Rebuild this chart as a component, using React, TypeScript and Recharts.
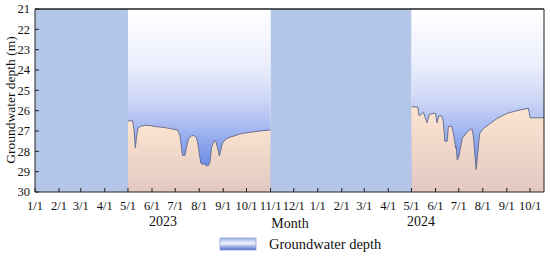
import { Area, AreaChart, ReferenceArea, ReferenceLine, XAxis, YAxis } from "recharts";

// days counted from 2023-01-01
const days2023 = [
  120, 126, 128, 129.5, 131, 133, 136, 141, 148, 155, 165, 175, 184, 187, 189, 190.5, 193.5, 195.5, 198, 201,
  205, 208, 210, 212, 214, 217, 219, 221, 224, 226, 228, 231, 233, 235.5, 238, 240, 242, 246, 252, 258, 264,
  271, 282, 293, 304,
];
const depth2023 = [
  26.5, 26.5, 27.0, 27.84, 27.3, 26.85, 26.78, 26.72, 26.73, 26.78, 26.82, 26.88, 26.95, 27.2, 27.8, 28.2, 28.2,
  27.8, 27.4, 27.25, 27.22, 27.3, 27.55, 28.1, 28.58, 28.65, 28.6, 28.72, 28.7, 28.5, 27.77, 27.5, 27.48, 27.8,
  28.23, 27.9, 27.6, 27.4, 27.3, 27.23, 27.15, 27.1, 27.04, 26.99, 26.95,
];

const days2024 = [
  486, 494, 496, 500, 501.5, 506, 509, 514, 517, 519, 521, 525, 527, 529, 532, 533.5, 538, 540.5, 543, 543.8,
  545, 547, 551.5, 558, 562, 564, 566, 568, 569.5, 571, 574, 579, 588, 596.5, 609.5, 622, 637, 639, 657,
];
const depth2024 = [
  25.8, 25.83, 26.26, 26.13, 26.08, 26.59, 26.18, 26.13, 26.15, 26.59, 26.26, 26.26, 26.5, 27.5, 27.5, 26.79,
  26.76, 27.2, 27.85, 27.77, 28.43, 28.26, 27.36, 27.04, 26.92, 26.9, 27.3, 28.26, 28.89, 28.26, 27.12, 26.87,
  26.62, 26.38, 26.13, 26.0, 25.88, 26.35, 26.35,
];

const monthTicks = [0, 31, 59, 90, 120, 151, 181, 212, 243, 273, 304, 334, 365, 396, 425, 456, 486, 517, 547, 578, 609, 639];
const monthLabels = [
  "1/1", "2/1", "3/1", "4/1", "5/1", "6/1", "7/1", "8/1", "9/1", "10/1", "11/1", "12/1",
  "1/1", "2/1", "3/1", "4/1", "5/1", "6/1", "7/1", "8/1", "9/1", "10/1",
];
const depthTicks = [21, 22, 23, 24, 25, 26, 27, 28, 29, 30];

const offSeason = [
  [0, 120],
  [304, 486],
];
const onSeason = [
  [120, 304],
  [486, 657],
];

const data2023 = days2023.map((day, i) => ({ day, depth: depth2023[i] }));
const data2024 = days2024.map((day, i) => ({ day, depth: depth2024[i] }));

const font = "'Liberation Serif', serif";
const axisColor = "#222";

export default function App() {
  const tickStyle = { fontSize: 12.5, fill: "#111", fontFamily: font };
  return (
    <div style={{ position: "absolute", left: 0, top: 0, width: 550, height: 257, background: "#fff" }}>
      <AreaChart width={550} height={257} data={data2023} margin={{ top: 9, right: 6, bottom: 45, left: 0 }}>
        <defs>
          <linearGradient id="sky" x1="0" y1="0" x2="0" y2="1">
            <stop offset="0%" stopColor="#ffffff" />
            <stop offset="30%" stopColor="#eceffc" />
            <stop offset="50%" stopColor="#cdd6f6" />
            <stop offset="65%" stopColor="#a5b8f1" />
            <stop offset="80%" stopColor="#7b98e9" />
            <stop offset="100%" stopColor="#4a74df" />
          </linearGradient>
          <linearGradient id="soil" x1="0" y1="0" x2="0" y2="1">
            <stop offset="0%" stopColor="#fde5d0" />
            <stop offset="100%" stopColor="#e3c8c2" />
          </linearGradient>
        </defs>
        <XAxis
          type="number"
          dataKey="day"
          domain={[0, 657]}
          ticks={monthTicks}
          interval={0}
          tickFormatter={(v) => monthLabels[monthTicks.indexOf(v)] ?? ""}
          height={20}
          tickSize={-4}
          tickMargin={13}
          stroke={axisColor}
          tick={tickStyle}
          allowDataOverflow
        />
        <YAxis
          type="number"
          domain={[21, 30]}
          ticks={depthTicks}
          reversed
          width={35}
          tickSize={-4}
          tickMargin={9}
          stroke={axisColor}
          tick={tickStyle}
          interval={0}
        />
        {offSeason.map(([a, b]) => (
          <ReferenceArea key={`off${a}`} x1={a} x2={b} y1={21} y2={30} fill="#b4c6e7" fillOpacity={1} stroke="none" />
        ))}
        {onSeason.map(([a, b]) => (
          <ReferenceArea key={`on${a}`} x1={a} x2={b} y1={21} y2={30} fill="url(#sky)" fillOpacity={1} stroke="none" />
        ))}
        <Area
          data={data2023}
          dataKey="depth"
          type="linear"
          baseValue={30}
          fill="url(#soil)"
          fillOpacity={1}
          stroke="#6b7190"
          strokeWidth={1}
          dot={false}
          isAnimationActive={false}
        />
        <Area
          data={data2024}
          dataKey="depth"
          type="linear"
          baseValue={30}
          fill="url(#soil)"
          fillOpacity={1}
          stroke="#6b7190"
          strokeWidth={1}
          dot={false}
          isAnimationActive={false}
        />
        <ReferenceLine y={21} stroke={axisColor} strokeWidth={1.5} />
        <ReferenceLine x={657} stroke={axisColor} strokeWidth={1} />
      </AreaChart>
      <svg width={550} height={257} style={{ position: "absolute", left: 0, top: 0, pointerEvents: "none" }}>
        <defs>
          <linearGradient id="legendFill" x1="0" y1="0" x2="0" y2="1">
            <stop offset="0%" stopColor="#9fb2e6" />
            <stop offset="45%" stopColor="#f2f4fc" />
            <stop offset="100%" stopColor="#4a6ccd" />
          </linearGradient>
        </defs>
        <text
          x={10}
          y={100}
          transform="rotate(-90 10 100)"
          textAnchor="middle"
          dominantBaseline="central"
          fontFamily={font}
          fontSize={13.5}
          fill="#111"
        >
          Groundwater depth (m)
        </text>
        <text x={163} y={221} textAnchor="middle" dominantBaseline="central" fontFamily={font} fontSize={14} fill="#111">
          2023
        </text>
        <text x={290} y={223} textAnchor="middle" dominantBaseline="central" fontFamily={font} fontSize={14} fill="#111">
          Month
        </text>
        <text x={421} y={221} textAnchor="middle" dominantBaseline="central" fontFamily={font} fontSize={14} fill="#111">
          2024
        </text>
        <rect x={220} y={238} width={36} height={12} fill="url(#legendFill)" stroke="#8ea4de" strokeWidth={0.8} />
        <text x={269} y={243.5} dominantBaseline="central" fontFamily={font} fontSize={14.5} fill="#111">
          Groundwater depth
        </text>
      </svg>
    </div>
  );
}
